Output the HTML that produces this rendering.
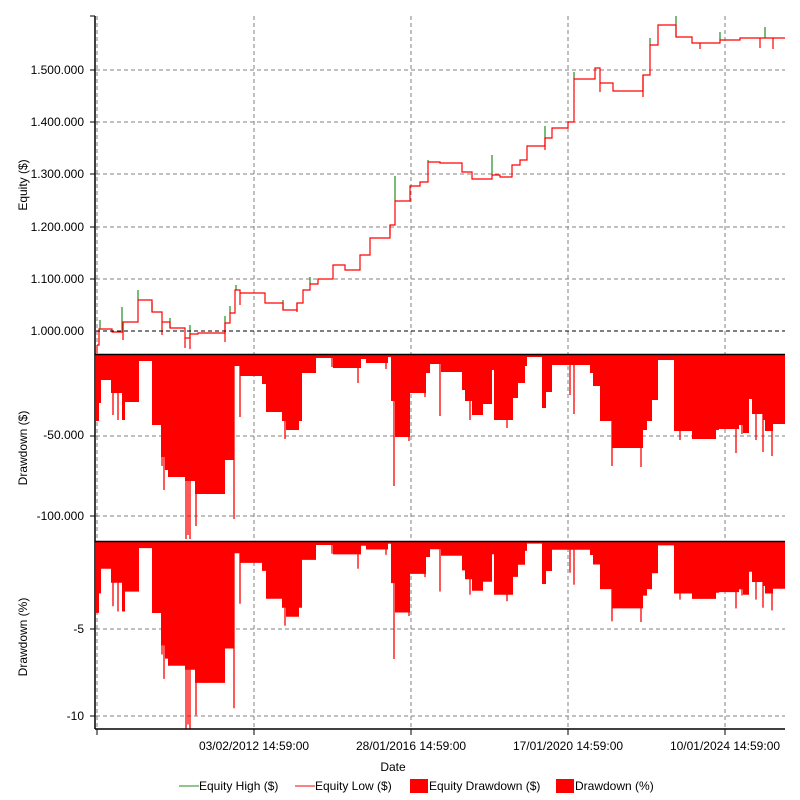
<!DOCTYPE html>
<html><head><meta charset="utf-8"><style>
body{margin:0;background:#fff;}
svg{display:block;font-family:"Liberation Sans",sans-serif;font-size:12px;}
</style></head><body>
<svg id="s" width="800" height="800" xmlns="http://www.w3.org/2000/svg">
<rect width="800" height="800" fill="#fff"/>
<g id="grid" stroke="#808080" stroke-dasharray="4,3" stroke-width="1"></g>
<g id="data"></g>
<line x1="96" y1="331" x2="785" y2="331" stroke="#000" stroke-dasharray="4,3"/>
<g stroke="#000" stroke-width="1.5">
<line x1="95" y1="16" x2="95" y2="729"/>
<line x1="95" y1="354.5" x2="785" y2="354.5"/>
<line x1="95" y1="541.5" x2="785" y2="541.5"/>
<line x1="95" y1="729" x2="785" y2="729"/>
</g>
<g id="ticks" stroke="#000"></g>
<g fill="#000" text-anchor="end">
<text x="84" y="74">1.500.000</text>
<text x="84" y="126">1.400.000</text>
<text x="84" y="178">1.300.000</text>
<text x="84" y="231">1.200.000</text>
<text x="84" y="283">1.100.000</text>
<text x="84" y="335">1.000.000</text>
<text x="84" y="439">-50.000</text>
<text x="84" y="520">-100.000</text>
<text x="84" y="633">-5</text>
<text x="84" y="720">-10</text>
</g>
<g fill="#000" text-anchor="middle">
<text transform="translate(27,185) rotate(-90)">Equity ($)</text>
<text transform="translate(27,448) rotate(-90)">Drawdown ($)</text>
<text transform="translate(27,637) rotate(-90)">Drawdown (%)</text>
<text x="254" y="750">03/02/2012 14:59:00</text>
<text x="411" y="750">28/01/2016 14:59:00</text>
<text x="568" y="750">17/01/2020 14:59:00</text>
<text x="725" y="750">10/01/2024 14:59:00</text>
<text x="393" y="771">Date</text>
</g>
<g font-size="12">
<line x1="179" y1="786" x2="199" y2="786" stroke="#228b22"/><text x="199" y="790">Equity High ($)</text>
<line x1="295" y1="786" x2="315" y2="786" stroke="#f00"/><text x="315" y="790">Equity Low ($)</text>
<rect x="410" y="779" width="18" height="14" fill="#f00"/><text x="429" y="790">Equity Drawdown ($)</text>
<rect x="556" y="779" width="18" height="14" fill="#f00"/><text x="575" y="790">Drawdown (%)</text>
</g>
</svg>
<script>
const NS="http://www.w3.org/2000/svg";
function el(p,t,a){const e=document.createElementNS(NS,t);for(const k in a)e.setAttribute(k,a[k]);p.appendChild(e);return e;}
const grid=document.getElementById('grid'),data=document.getElementById('data'),ticks=document.getElementById('ticks');
[97,254,411,568,725].forEach(x=>{el(grid,'line',{x1:x,y1:16,x2:x,y2:729});el(ticks,'line',{x1:x,y1:729,x2:x,y2:735});});
[70,122,174,227,279,436,516,629,716].forEach(y=>{el(grid,'line',{x1:96,y1:y,x2:785,y2:y});el(ticks,'line',{x1:90,y1:y,x2:95,y2:y});});
el(ticks,'line',{x1:90,y1:16,x2:95,y2:16});
const eq=[[97,345],[99,329],[112,332],[123,322],[138,300],[152,312],[162,322],[170,328],[185,338],[190,334],[198,333],[225,323],[230,313],[235,290],[240,293],[265,303],[283,310],[297,303],[303,290],[310,284],[318,279],[333,265],[345,270],[360,255],[370,238],[390,225],[395,201],[410,186],[420,182],[428,162],[440,163],[462,172],[472,179],[492,175],[500,177],[512,165],[520,160],[527,146],[545,138],[552,128],[568,122],[574,79],[595,68],[600,83],[613,91],[643,75],[650,45],[658,25],[676,37],[692,43],[720,40],[740,38],[785,38]];
let d="M"+eq[0][0]+","+eq[0][1];
for(let i=1;i<eq.length;i++){d+=" H"+eq[i][0]+" V"+eq[i][1];}
function eqAt(x){const f=eq.filter(p=>p[0]<=x);return f.length?f[f.length-1][1]:eq[0][1];}
const gs=[[100,320],[122,307],[138,290],[152,302],[170,318],[190,325],[225,316],[230,306],[236,285],[283,300],[310,277],[395,176],[428,160],[492,155],[545,126],[574,72],[650,38],[676,16],[720,32],[765,27]];
gs.forEach(([x,y])=>{el(data,'line',{x1:x,y1:eqAt(x),x2:x,y2:y,stroke:'#228b22','stroke-width':1.2});});
const rs=[[97,353],[123,340],[162,335],[185,348],[190,349],[225,342],[240,305],[297,312],[390,235],[545,150],[600,92],[643,97],[700,49],[760,48],[773,49]];
rs.forEach(([x,y])=>{el(data,'line',{x1:x,y1:eqAt(x),x2:x,y2:y,stroke:'#f00','stroke-width':1.2});});
el(data,'path',{d:d,fill:'none',stroke:'#f00','stroke-width':1.2});
const dd=[[96,421],[99,403],[101,380],[111,393],[122,420],[125,402],[139,361],[152,425],[161,457],[165,470],[168,477],[185,481],[195,494],[225,460],[234,366],[240,376],[262,384],[266,412],[282,421],[286,430],[299,421],[302,373],[316,358],[333,368],[361,359],[366,363],[388,357],[391,401],[395,437],[410,393],[426,373],[430,364],[441,372],[462,390],[465,401],[472,415],[483,404],[492,370],[494,420],[513,398],[518,383],[525,366],[527,357],[542,408],[546,392],[552,365],[590,373],[593,386],[600,421],[612,448],[643,430],[647,421],[652,400],[658,360],[674,431],[692,439],[716,430],[719,429],[739,425],[743,433],[749,399],[752,414],[763,420],[765,431],[773,424],[785,424]];
const ddsp=[[98,410],[113,415],[118,420],[162,466],[164,490],[186,539],[188,535],[190,539],[196,526],[234,519],[240,417],[285,439],[332,367],[358,383],[386,369],[394,486],[409,441],[425,397],[440,416],[470,420],[507,428],[570,395],[574,414],[612,466],[641,467],[736,453],[742,434],[763,452],[772,456],[756,440],[680,440]];
function peakK(x){let m=1000;eq.forEach(p=>{if(p[0]<=x){const v=1000+(331-p[1])/0.522;if(v>m)m=v;}});return m;}
function pct(x,y){const dk=(y-355)/1.62;return 542+dk/peakK(x)*100*17.4;}
let p1="M96,355",p2="M96,542";
for(let i=0;i<dd.length;i++){const [x,y]=dd[i];const nx=i+1<dd.length?dd[i+1][0]:785;
 p1+=" L"+x+","+y+" L"+nx+","+y; const py=pct(x,y).toFixed(1); p2+=" L"+x+","+py+" L"+nx+","+py;}
p1+=" L785,355 Z";p2+=" L785,542 Z";
el(data,'path',{d:p1,fill:'#f00'});el(data,'path',{d:p2,fill:'#f00'});
ddsp.forEach(([x,y])=>{el(data,'line',{x1:x,y1:355,x2:x,y2:y,stroke:'#f00','stroke-width':1.3});el(data,'line',{x1:x,y1:542,x2:x,y2:pct(x,y).toFixed(1),stroke:'#f00','stroke-width':1.3});});
</script>
</body></html>
